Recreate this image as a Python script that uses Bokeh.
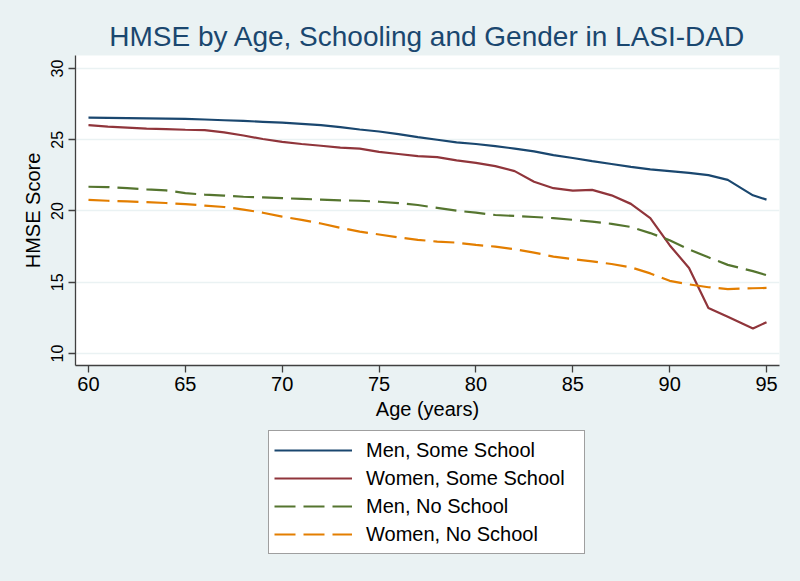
from bokeh.plotting import figure
from bokeh.models import Range1d, Legend, LegendItem, FixedTicker
from bokeh.layouts import column
from bokeh.embed import file_html
from bokeh.resources import INLINE

# ---- data ----
ages = [60, 61, 62, 63, 64, 65, 66, 67, 68, 69, 70, 71, 72, 73, 74, 75, 76, 77,
        78, 79, 80, 81, 82, 83, 84, 85, 86, 87, 88, 89, 90, 91, 92, 93, 94.3, 95]

men_some_school = [26.55, 26.54, 26.52, 26.50, 26.48, 26.46, 26.42, 26.37, 26.32,
                   26.26, 26.20, 26.12, 26.02, 25.88, 25.72, 25.58, 25.40, 25.18,
                   25.00, 24.82, 24.70, 24.55, 24.38, 24.18, 23.92, 23.72, 23.50,
                   23.30, 23.10, 22.92, 22.80, 22.68, 22.52, 22.18, 21.10, 20.80]

women_some_school = [26.02, 25.92, 25.85, 25.78, 25.74, 25.70, 25.68, 25.52, 25.30,
                     25.05, 24.85, 24.70, 24.58, 24.45, 24.38, 24.15, 24.00, 23.85,
                     23.78, 23.55, 23.38, 23.15, 22.80, 22.05, 21.60, 21.43, 21.48,
                     21.10, 20.50, 19.50, 17.60, 16.00, 13.20, 12.58, 11.75, 12.20]

men_no_school = [21.70, 21.68, 21.60, 21.52, 21.45, 21.25, 21.15, 21.08, 21.00,
                 20.95, 20.90, 20.85, 20.80, 20.75, 20.72, 20.65, 20.55, 20.42,
                 20.22, 20.02, 19.88, 19.72, 19.65, 19.58, 19.50, 19.38, 19.25,
                 19.10, 18.88, 18.45, 17.95, 17.30, 16.75, 16.22, 15.78, 15.50]

women_no_school = [20.78, 20.72, 20.67, 20.62, 20.56, 20.48, 20.38, 20.28, 20.10,
                   19.88, 19.60, 19.38, 19.12, 18.82, 18.55, 18.35, 18.15, 17.98,
                   17.85, 17.78, 17.62, 17.50, 17.32, 17.08, 16.80, 16.62, 16.46,
                   16.28, 16.05, 15.62, 15.10, 14.85, 14.65, 14.52, 14.58, 14.60]

x_ticks = [60, 65, 70, 75, 80, 85, 90, 95]
y_ticks = [10, 15, 20, 25, 30]

series = [
    ("Men, Some School", men_some_school, "#1A476F", "solid"),
    ("Women, Some School", women_some_school, "#90353B", "solid"),
    ("Men, No School", men_no_school, "#55752F", "21 8"),
    ("Women, No School", women_no_school, "#E37E00", "21 8"),
]

BG = "#EAF2F3"
FONT = "Liberation Sans"

# ---------------- main chart ----------------
p = figure(width=800, height=428, output_backend="svg", toolbar_location=None,
           x_range=Range1d(59.33, 95.67), y_range=Range1d(9.158, 30.912),
           min_border_left=75, min_border_right=21, min_border_top=55,
           min_border_bottom=63)

p.background_fill_color = "white"
p.border_fill_color = BG
p.outline_line_color = None

p.title.text = "HMSE by Age, Schooling and Gender in LASI-DAD"
p.title.align = "center"
p.title.text_font = FONT
p.title.text_font_size = "28px"
p.title.text_font_style = "normal"
p.title.text_color = "#1A476F"
p.title.standoff = 7

for label, vals, color, dash in series:
    p.line(ages, vals, line_color=color, line_width=2.2, line_dash=dash)

p.xaxis.ticker = FixedTicker(ticks=x_ticks)
p.yaxis.ticker = FixedTicker(ticks=y_ticks)
p.xaxis.axis_label = "Age (years)"
p.yaxis.axis_label = "HMSE Score"
for ax in (p.xaxis, p.yaxis):
    ax.axis_line_color = "#404040"
    ax.axis_line_width = 1.3
    ax.major_tick_line_color = "#404040"
    ax.major_tick_line_width = 1.3
    ax.major_tick_out = 7
    ax.major_tick_in = 0
    ax.minor_tick_line_color = None
    ax.axis_label_text_font = FONT
    ax.axis_label_text_font_size = "20px"
    ax.axis_label_text_font_style = "normal"
    ax.axis_label_text_color = "black"
    ax.major_label_text_font = FONT
    ax.major_label_text_color = "black"

p.xaxis.major_label_text_font_size = "20px"
p.xaxis.major_label_standoff = 4
p.xaxis.axis_label_standoff = 4
p.yaxis.major_label_text_font_size = "16px"
p.yaxis.major_label_orientation = "vertical"
p.yaxis.major_label_standoff = 5
p.yaxis.axis_label_standoff = 5

p.xgrid.grid_line_color = None
p.ygrid.grid_line_color = BG
p.ygrid.grid_line_width = 1.5

# ---------------- legend strip ----------------
# the strip's ranges lie far outside the data, so its lines only feed the legend keys
q = figure(width=800, height=153, output_backend="svg", toolbar_location=None,
           x_range=Range1d(0, 1), y_range=Range1d(0, 1),
           x_axis_location=None, y_axis_location=None,
           min_border_left=0, min_border_right=0, min_border_top=0,
           min_border_bottom=0)
q.background_fill_color = BG
q.border_fill_color = BG
q.outline_line_color = None
q.xgrid.grid_line_color = None
q.ygrid.grid_line_color = None

items = []
for label, vals, color, dash in series:
    r = q.line(ages, vals, line_color=color, line_width=2.2, line_dash=dash)
    items.append(LegendItem(label=label, renderers=[r]))

legend = Legend(items=items, location=(193, 27))
legend.padding = 5
legend.spacing = 0
legend.glyph_width = 78
legend.glyph_height = 28
legend.label_height = 28
legend.label_width = 213
legend.label_standoff = 14
legend.label_text_font = FONT
legend.label_text_font_size = "20px"
legend.label_text_color = "black"
legend.border_line_color = "#404040"
legend.border_line_width = 1.2
legend.background_fill_color = "white"
legend.background_fill_alpha = 1.0
legend.margin = 0
q.add_layout(legend, "center")

layout = column(p, q, spacing=0)

html = file_html(layout, INLINE)
html = html.replace("</head>", "<style>html, body { background-color: #EAF2F3; }</style></head>", 1)
open("out.html", "w").write(html)
